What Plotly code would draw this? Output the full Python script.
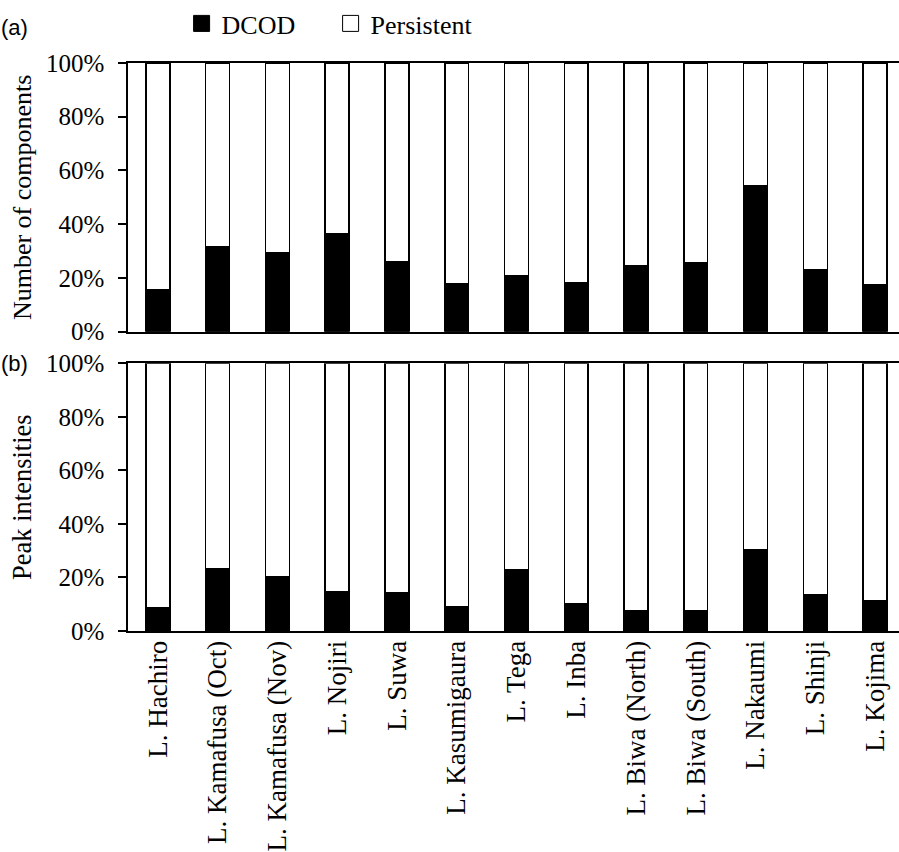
import plotly.graph_objects as go

# Lakes sampled
lakes = [
    "L. Hachiro", "L. Kamafusa (Oct)", "L. Kamafusa (Nov)", "L. Nojiri",
    "L. Suwa", "L. Kasumigaura", "L. Tega", "L. Inba", "L. Biwa (North)",
    "L. Biwa (South)", "L. Nakaumi", "L. Shinji", "L. Kojima",
]

# (a) share of components that are DCOD (%)
dcod_components = [15.5, 31.7, 29.4, 36.3, 25.9, 17.9, 20.9, 18.2, 24.5, 25.8, 54.4, 23.2, 17.4]
# (b) share of peak intensities that are DCOD (%)
dcod_intensity = [8.6, 23.3, 20.4, 14.7, 14.2, 9.0, 22.8, 10.0, 7.6, 7.6, 30.2, 13.4, 11.2]

persistent_components = [100 - v for v in dcod_components]
persistent_intensity = [100 - v for v in dcod_intensity]

SERIF = "Liberation Serif, Times New Roman, serif"
SANS = "Liberation Sans, Arial, sans-serif"
BAR_LINE = dict(color="black", width=1.5)

W, H = 899, 852
M_L, M_R, M_T, M_B = 128, 0, 63, 221
PLOT_W = W - M_L - M_R
PLOT_H = H - M_T - M_B

fig = go.Figure()

panels = [
    ("x", "y", dcod_components, persistent_components),
    ("x2", "y2", dcod_intensity, persistent_intensity),
]
for xa, ya, dcod, pers in panels:
    fig.add_trace(go.Bar(
        x=lakes, y=dcod, name="DCOD", xaxis=xa, yaxis=ya,
        marker=dict(color="black", line=BAR_LINE), showlegend=False,
    ))
    fig.add_trace(go.Bar(
        x=lakes, y=pers, name="Persistent", xaxis=xa, yaxis=ya,
        marker=dict(color="white", line=BAR_LINE), showlegend=False,
    ))

# Legend keys: large square swatches for the two fractions
for name, fill in [("DCOD", "black"), ("Persistent", "white")]:
    fig.add_trace(go.Scatter(
        x=[None], y=[None], mode="markers", name=name,
        marker=dict(symbol="square", size=16, color=fill,
                    line=dict(color="black", width=1)),
        showlegend=True,
    ))

xcommon = dict(
    type="category", range=[-0.5, 12.4], showgrid=False, automargin=False,
    showline=True, linecolor="black", linewidth=2, mirror=True,
    ticks="", tickangle=-90,
    tickfont=dict(family=SERIF, size=27, color="black"),
)
ycommon = dict(
    range=[0, 100], dtick=20, ticksuffix="%", showgrid=False, zeroline=False,
    automargin=False,
    showline=True, linecolor="black", linewidth=1.5,
    ticks="outside", ticklen=8, tickwidth=1.5, tickcolor="black",
    tickfont=dict(family=SERIF, size=25, color="black"),
    ticklabelstandoff=9,
)

lab_x = (-1 - M_L) / PLOT_W

fig.update_layout(
    width=W, height=H,
    margin=dict(l=M_L, r=M_R, t=M_T, b=M_B),
    paper_bgcolor="white", plot_bgcolor="white",
    barmode="stack", bargap=0.6,
    xaxis=dict(xcommon, domain=[0, 1], anchor="y", showticklabels=False),
    xaxis2=dict(xcommon, domain=[0, 1], anchor="y2", matches="x",
                ticklabelstandoff=-3),
    yaxis=dict(ycommon, domain=[0.527, 1], anchor="x",
               title=dict(text="Number of components", standoff=7,
                          font=dict(family=SERIF, size=26, color="black"))),
    yaxis2=dict(ycommon, domain=[0, 0.4713], anchor="x2",
                title=dict(text="Peak intensities", standoff=7,
                           font=dict(family=SERIF, size=26.5, color="black"))),
    legend=dict(
        orientation="h", xref="container", yref="container",
        x=0.202, xanchor="left", y=1.0, yanchor="top",
        font=dict(family=SERIF, size=26, color="black"),
        itemwidth=30, entrywidth=104, traceorder="normal",
    ),
    annotations=[
        dict(text="(a)", xref="paper", yref="paper",
             x=lab_x, y=1 + (M_T - 28) / PLOT_H,
             xanchor="left", yanchor="middle", showarrow=False,
             font=dict(family=SANS, size=22, color="black")),
        dict(text="(b)", xref="paper", yref="paper", x=lab_x, y=0.4713,
             xanchor="left", yanchor="middle", showarrow=False,
             font=dict(family=SANS, size=22, color="black")),
    ],
)

fig.write_html("out.html")
